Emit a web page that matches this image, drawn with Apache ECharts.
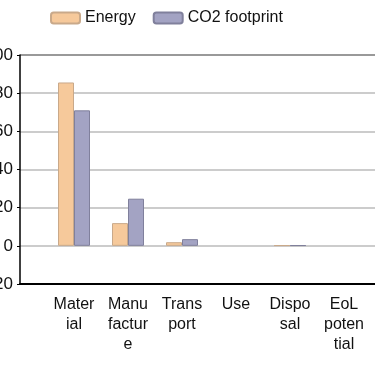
<!DOCTYPE html>
<html><head><meta charset="utf-8">
<script src="https://cdn.jsdelivr.net/npm/echarts@6/dist/echarts.min.js"></script>
<style>html,body{margin:0;padding:0;background:#fff}#c{width:375px;height:366px}</style>
</head><body><div id="c"></div>
<script>
const categories = ['Mater\nial', 'Manu\nfactur\ne', 'Trans\nport', 'Use', 'Dispo\nsal', 'EoL\npoten\ntial'];
const energy = [85.6, 11.9, 1.9, null, 0.3, null];
const co2 = [71, 24.7, 3.5, null, 0.3, null];
const yTicks = { min: -20, max: 100, interval: 20 };

const font = 'Liberation Sans, Arial, sans-serif';
const chart = echarts.init(document.getElementById('c'));
chart.setOption({
  animation: false,
  textStyle: { fontFamily: font },
  legend: {
    top: 5, left: 45, itemWidth: 29, itemHeight: 11, itemGap: 17,
    textStyle: { fontSize: 16, color: '#111', fontFamily: font },
    data: ['Energy', 'CO2 footprint']
  },
  grid: [
    { left: 20, right: 0, top: 55, bottom: 82, outerBoundsMode: 'none', containLabel: false },
    { left: 47, right: 4, top: 55, bottom: 82, outerBoundsMode: 'none', containLabel: false }
  ],
  xAxis: [
    { gridIndex: 0, type: 'value', min: 0, max: 1, show: true,
      axisLine: { show: true, onZero: false, lineStyle: { color: '#000', width: 2 } },
      axisTick: { show: false }, axisLabel: { show: false }, splitLine: { show: false } },
    { gridIndex: 1, type: 'category', data: categories,
      axisLine: { show: false }, axisTick: { show: false },
      axisLabel: { interval: 0, fontSize: 16, color: '#111', lineHeight: 20, margin: 11, fontFamily: font } }
  ],
  yAxis: [
    { gridIndex: 0, type: 'value', min: yTicks.min, max: yTicks.max, interval: yTicks.interval,
      axisLine: { show: true, lineStyle: { color: '#000', width: 1.5 } },
      axisTick: { show: true, length: 3, lineStyle: { color: '#000' } },
      axisLabel: { fontSize: 17, color: '#111', margin: 7, fontFamily: font },
      splitLine: { show: true, lineStyle: { color: ['#bbb', '#bbb', '#bbb', '#bbb', '#bbb', '#bbb', '#777'], width: 1.5 } } },
    { gridIndex: 1, type: 'value', min: yTicks.min, max: yTicks.max, interval: yTicks.interval, show: false }
  ],
  series: [
    { name: 'Energy', type: 'bar', xAxisIndex: 1, yAxisIndex: 1, data: energy,
      barWidth: 16, barGap: '0%',
      itemStyle: { color: '#f6c99b', borderColor: '#c9a98a', borderWidth: 1 } },
    { name: 'CO2 footprint', type: 'bar', xAxisIndex: 1, yAxisIndex: 1, data: co2,
      barWidth: 16, barGap: '0%',
      itemStyle: { color: '#a3a3c3', borderColor: '#80809c', borderWidth: 1 } }
  ]
});
</script></body></html>
